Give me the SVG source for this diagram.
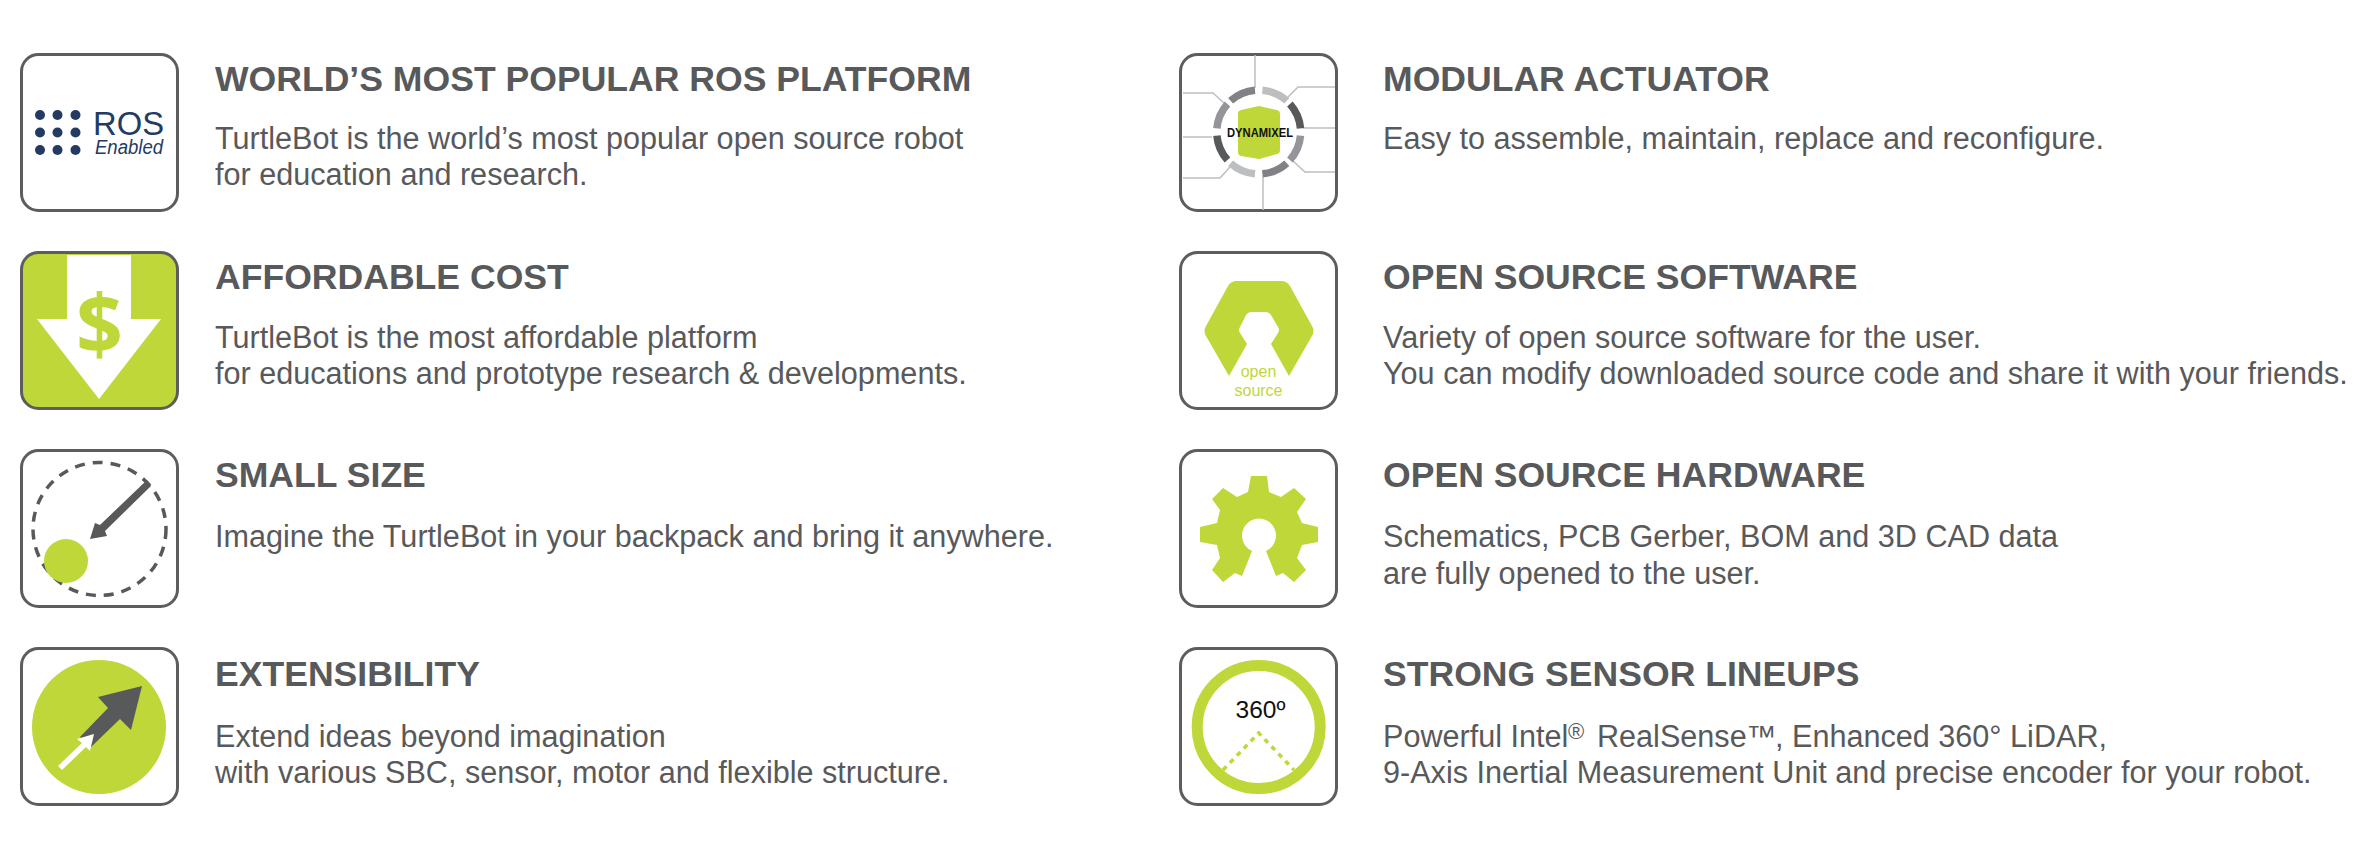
<svg xmlns="http://www.w3.org/2000/svg" width="2360" height="846" viewBox="0 0 2360 846">
<style>
text{font-family:"Liberation Sans",Arial,sans-serif;fill:#58595b}
.t{font-size:35.6px;font-weight:700}
.b{font-size:30.6px}
.c{fill:#fff;stroke:#5d5d5f;stroke-width:3}
.g{fill:#bfd739}
.d{fill:#58595b}
.n{fill:#233a63}
.w{fill:none;stroke:#bcbec0;stroke-width:1.5}
</style>
<rect width="2360" height="846" fill="#fff"/>
<g id="node-ros">
<rect class="c" x="21.500" y="54.500" width="156" height="156" rx="17"/>
<g class="n"><circle cx="40" cy="115" r="5"/><circle cx="57.500" cy="115" r="5"/><circle cx="75.500" cy="115" r="5"/><circle cx="40" cy="132.500" r="5"/><circle cx="57.500" cy="132.500" r="5"/><circle cx="75.500" cy="132.500" r="5"/><circle cx="40" cy="150" r="5"/><circle cx="57.500" cy="150" r="5"/><circle cx="75.500" cy="150" r="5"/></g>
<text x="93" y="135" style="font-size:33.500px;fill:#233a63" textLength="71" lengthAdjust="spacingAndGlyphs">ROS</text>
<text x="95" y="154" style="font-size:20px;font-style:italic;fill:#233a63" textLength="68" lengthAdjust="spacingAndGlyphs">Enabled</text>
<text class="t" x="215" y="91">WORLD’S MOST POPULAR ROS PLATFORM</text>
<text class="b" x="215" y="148.500">TurtleBot is the world’s most popular open source robot</text>
<text class="b" x="215" y="185">for education and research.</text>
</g>
<g id="node-cost">
<rect x="21.500" y="252.500" width="156" height="156" rx="17" fill="#bfd739" stroke="#5d5d5f" stroke-width="3"/>
<path d="M67 255H131V319H161L99 399L37 319H67Z" fill="#fff"/>
<text x="99.500" y="354" text-anchor="middle" style="font-size:82px;font-weight:700;fill:#bfd739;font-family:'Open Sans',sans-serif">$</text>
<text class="t" x="215" y="289.300">AFFORDABLE COST</text>
<text class="b" x="215" y="347.500">TurtleBot is the most affordable platform</text>
<text class="b" x="215" y="384">for educations and prototype research &amp; developments.</text>
</g>
<g id="node-size">
<rect class="c" x="21.500" y="450.500" width="156" height="156" rx="17"/>
<circle cx="99.500" cy="529" r="66.500" fill="none" stroke="#58595b" stroke-width="3.500" stroke-dasharray="10 8"/>
<circle class="g" cx="66" cy="561" r="22"/>
<path d="M147 480L151 486L105 531L107 536L90 539L95 523L100 525Z" class="d"/>
<text class="t" x="215" y="487.300">SMALL SIZE</text>
<text class="b" x="215" y="547">Imagine the TurtleBot in your backpack and bring it anywhere.</text>
</g>
<g id="node-ext">
<rect class="c" x="21.500" y="648.500" width="156" height="156" rx="17"/>
<circle class="g" cx="99" cy="727" r="67"/>
<path d="M142 686L98 697L108 708L80 737L91 747L120 719L131 730Z" class="d"/>
<path d="M94 734L77 739L82 743L58 766L62 770L86 747L90 751Z" fill="#fff"/>
<text class="t" x="215" y="686">EXTENSIBILITY</text>
<text class="b" x="215" y="746.500">Extend ideas beyond imagination</text>
<text class="b" x="215" y="783">with various SBC, sensor, motor and flexible structure.</text>
</g>
<g id="node-actuator">
<rect class="c" x="1180.500" y="54.500" width="156" height="156" rx="17"/>
<path class="w" d="M1255 55V88M1183 93H1213L1225 104M1183 137H1212M1183 178H1220L1230 167M1263 210V177M1335 87H1298L1288 97M1335 128H1303M1335 172H1305L1293 161"/>
<path class="g" d="M1241 110L1259 106L1277 110Q1280 111 1280 114V150Q1280 153 1277 154L1259 159L1241 156Q1238 155 1238 152V113Q1238 111 1241 110Z"/>
<g fill="none" stroke-width="7.500">
<path stroke="#bcbec0" d="M1262.400 90.200A42 42 0 0 1 1286.800 100.800"/>
<path stroke="#58595b" d="M1289.900 103.900A42 42 0 0 1 1300.500 128.300"/>
<path stroke="#939598" d="M1300.500 135.700A42 42 0 0 1 1289.900 160.100"/>
<path stroke="#808285" d="M1286.800 163.200A42 42 0 0 1 1262.400 173.800"/>
<path stroke="#bcbec0" d="M1255 173.800A42 42 0 0 1 1230.600 163.200"/>
<path stroke="#58595b" d="M1227.500 160.100A42 42 0 0 1 1216.900 135.700"/>
<path stroke="#939598" d="M1216.900 128.300A42 42 0 0 1 1227.500 103.900"/>
<path stroke="#808285" d="M1230.600 100.800A42 42 0 0 1 1255 90.200"/>
</g>
<text x="1227" y="137" style="font-size:13px;font-weight:700;fill:#111" textLength="66" lengthAdjust="spacingAndGlyphs">DYNAMIXEL</text>
<text class="t" x="1383" y="91">MODULAR ACTUATOR</text>
<text class="b" x="1383" y="148.500">Easy to assemble, maintain, replace and reconfigure.</text>
</g>
<g id="node-software">
<rect class="c" x="1180.500" y="252.500" width="156" height="156" rx="17"/>
<path class="g" d="M1237 281H1281Q1287 281 1290 286L1312 326Q1315 331 1312 336L1289 376L1271 344L1278 333Q1280 330 1278 327L1271 315Q1269 312 1266 312H1251Q1248 312 1246 315L1240 327Q1238 330 1240 333L1247 344L1229 376L1206 336Q1203 331 1206 326L1228 286Q1231 281 1237 281Z"/>
<text x="1258.500" y="376.500" text-anchor="middle" style="font-size:16px;fill:#bfd739">open</text>
<text x="1258.500" y="396" text-anchor="middle" style="font-size:16px;fill:#bfd739">source</text>
<text class="t" x="1383" y="289.300">OPEN SOURCE SOFTWARE</text>
<text class="b" x="1383" y="347.500">Variety of open source software for the user.</text>
<text class="b" x="1383" y="384">You can modify downloaded source code and share it with your friends.</text>
</g>
<g id="node-hardware">
<rect class="c" x="1180.500" y="450.500" width="156" height="156" rx="17"/>
<path class="g" d="M1251 476H1267L1269 492L1281 497L1294 488L1306 499L1297 512L1302 523L1318 527V542L1302 545L1297 558L1306 570L1294 582L1283 573L1276 576L1266 551A17 17 0 1 0 1252 551L1242 576L1235 573L1223 582L1212 570L1220 558L1217 545L1200 542V527L1217 523L1220 510L1212 499L1223 488L1237 497L1248 492Z"/>
<text class="t" x="1383" y="487.300">OPEN SOURCE HARDWARE</text>
<text class="b" x="1383" y="547">Schematics, PCB Gerber, BOM and 3D CAD data</text>
<text class="b" x="1383" y="583.500">are fully opened to the user.</text>
</g>
<g id="node-sensor">
<rect class="c" x="1180.500" y="648.500" width="156" height="156" rx="17"/>
<circle cx="1258.700" cy="727" r="61.500" fill="none" stroke="#bfd739" stroke-width="11"/>
<path d="M1223 770L1258.700 733L1294 770" fill="none" stroke="#bfd739" stroke-width="3.500" stroke-dasharray="5 5"/>
<text x="1260.500" y="718" text-anchor="middle" style="font-size:24.500px;fill:#111">360º</text>
<text class="t" x="1383" y="686">STRONG SENSOR LINEUPS</text>
<text class="b" x="1383" y="746.500">Powerful Intel<tspan x="1568" dy="-8" font-size="22">®</tspan><tspan x="1597" dy="8">RealSense</tspan><tspan x="1746">™</tspan><tspan x="1775">, Enhanced 360° LiDAR,</tspan></text>
<text class="b" x="1383" y="783">9-Axis Inertial Measurement Unit and precise encoder for your robot.</text>
</g>
<g id="connectors"/>
</svg>
